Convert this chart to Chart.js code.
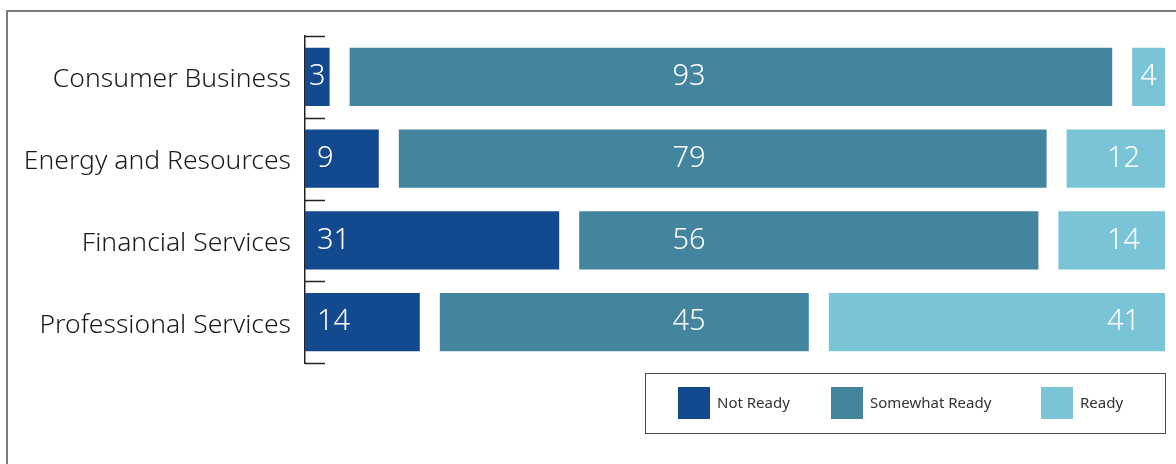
<!DOCTYPE html>
<html>
<head>
<meta charset="utf-8">
<script src="https://cdn.jsdelivr.net/npm/chart.js@4/dist/chart.umd.min.js"></script>
<style>
  html, body { margin: 0; padding: 0; background: #fff; }
  #wrap { position: relative; width: 1176px; height: 464px; overflow: hidden; }
  #frame { position: absolute; left: 6px; top: 10px; width: 1300px; height: 600px;
           border-left: 2px solid #7c7c7c; border-top: 2px solid #7c7c7c; }
  canvas { position: absolute; left: 0; top: 0; }
</style>
</head>
<body>
<div id="wrap">
  <div id="frame"></div>
  <canvas id="c" width="1176" height="464"></canvas>
</div>
<script>
// Readiness by industry (percent of respondents)
const categories = ['Consumer Business', 'Energy and Resources', 'Financial Services', 'Professional Services'];
const notReady = [3, 9, 31, 14];
const somewhatReady = [93, 79, 56, 45];
const ready = [4, 12, 14, 41];
const seriesNames = ['Not Ready', 'Somewhat Ready', 'Ready'];
const seriesColors = ['#134a8f', '#43849f', '#79c4d6'];

// White space between the segments of a bar, in value units
const GAP = 2.44;

// Floating segments laid end to end with a gap between them
const segNot = notReady.map(v => [0, v]);
const segSome = somewhatReady.map((v, i) => [notReady[i] + GAP, notReady[i] + GAP + v]);
const segReady = ready.map((v, i) => {
  const s = notReady[i] + somewhatReady[i] + 2 * GAP;
  return [s, s + v];
});

const FONT = "'Noto Sans', 'Open Sans', sans-serif";

// Short tick marks at category boundaries, pointing into the plot
const boundaryTicks = {
  id: 'boundaryTicks',
  afterDraw(chart) {
    const {ctx, chartArea, scales} = chart;
    const y = scales.y;
    ctx.save();
    ctx.strokeStyle = '#222';
    ctx.lineWidth = 1.5;
    for (let i = 0; i <= categories.length; i++) {
      const py = Math.round(y.getPixelForValue(i - 0.5)) + 0.5;
      ctx.beginPath();
      ctx.moveTo(chartArea.left, py);
      ctx.lineTo(chartArea.left + 20, py);
      ctx.stroke();
    }
    ctx.restore();
  }
};

// Value labels inside each segment
const valueLabels = {
  id: 'valueLabels',
  afterDatasetsDraw(chart) {
    const {ctx, chartArea} = chart;
    const raw = [notReady, somewhatReady, ready];
    ctx.save();
    ctx.font = "300 29px " + FONT;
    ctx.fillStyle = '#ffffff';
    ctx.textBaseline = 'middle';
    chart.data.datasets.forEach((ds, di) => {
      const meta = chart.getDatasetMeta(di);
      meta.data.forEach((bar, i) => {
        const text = String(raw[di][i]);
        const left = Math.min(bar.x, bar.base);
        const right = Math.min(Math.max(bar.x, bar.base), chartArea.right);
        const w = right - left;
        const h = bar.height;
        const tw = ctx.measureText(text).width;
        let x, align;
        if (di === 1) {
          x = chartArea.left + (chartArea.right - chartArea.left) * 0.4465;
          align = 'center';
        } else if (w < tw + 30) {
          x = (left + right) / 2;
          align = 'center';
        } else if (di === 0) {
          x = left + 12;
          align = 'left';
        } else {
          x = right - 25;
          align = 'right';
        }
        ctx.save();
        ctx.beginPath();
        ctx.rect(left, bar.y - h / 2, w, h);
        ctx.clip();
        ctx.textAlign = align;
        ctx.fillText(text, x, bar.y);
        ctx.restore();
      });
    });
    ctx.restore();
  }
};

// Boxed legend under the plot, right-aligned with it
const boxedLegend = {
  id: 'boxedLegend',
  afterDraw(chart) {
    const {ctx, chartArea} = chart;
    const boxW = 520, boxH = 60;
    const bx = chartArea.right - boxW;
    const by = chartArea.bottom + 10;
    ctx.save();
    ctx.strokeStyle = '#4a4a4a';
    ctx.lineWidth = 1;
    ctx.strokeRect(bx + 0.5, by + 0.5, boxW, boxH);
    const offsets = [33, 186, 396];
    ctx.font = "15px " + FONT;
    ctx.textBaseline = 'middle';
    ctx.textAlign = 'left';
    chart.data.datasets.forEach((ds, i) => {
      const x = bx + offsets[i];
      const y = by + 14;
      ctx.fillStyle = ds.backgroundColor;
      ctx.fillRect(x, y, 32, 32);
      ctx.fillStyle = '#333';
      ctx.fillText(ds.label, x + 39, y + 17);
    });
    ctx.restore();
  }
};

new Chart(document.getElementById('c'), {
  type: 'bar',
  data: {
    labels: categories,
    datasets: [
      { label: seriesNames[0], data: segNot, backgroundColor: seriesColors[0] },
      { label: seriesNames[1], data: segSome, backgroundColor: seriesColors[1] },
      { label: seriesNames[2], data: segReady, backgroundColor: seriesColors[2] }
    ]
  },
  options: {
    indexAxis: 'y',
    responsive: false,
    animation: false,
    devicePixelRatio: 1,
    layout: { padding: { top: 36, right: 11, bottom: 101, left: 0 } },
    datasets: {
      bar: { grouped: false, categoryPercentage: 1, barPercentage: 0.71, borderWidth: 0 }
    },
    scales: {
      x: {
        display: false,
        min: 0,
        max: 100 + 2 * GAP
      },
      y: {
        grid: { display: false, drawTicks: false },
        border: { display: true, color: '#222', width: 1.5 },
        ticks: {
          color: '#1a1a1a',
          padding: 14,
          labelOffset: 3,
          font: { family: FONT, size: 26.5, weight: 300 }
        },
        afterFit(scale) { scale.width = 305; }
      }
    },
    plugins: {
      legend: { display: false },
      tooltip: { enabled: false }
    }
  },
  plugins: [boundaryTicks, valueLabels, boxedLegend]
});
</script>
</body>
</html>
